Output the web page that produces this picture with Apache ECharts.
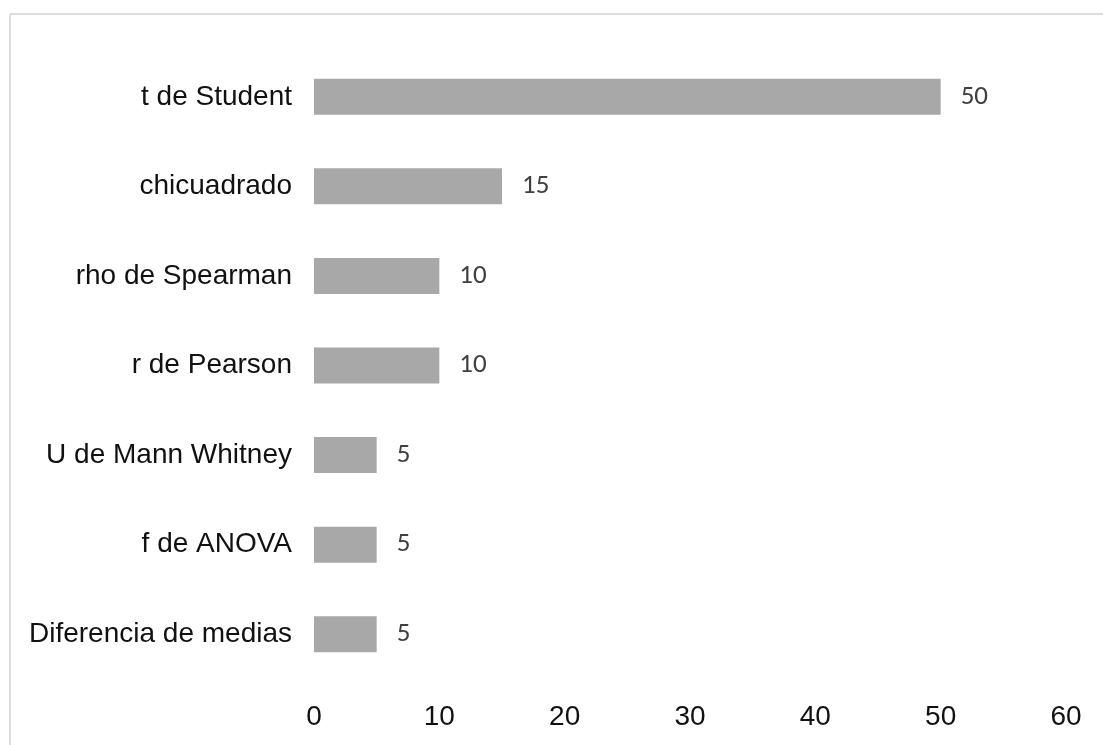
<!DOCTYPE html>
<html>
<head>
<meta charset="utf-8">
<script src="https://cdn.jsdelivr.net/npm/echarts@6/dist/echarts.min.js"></script>
<style>
  html, body { margin: 0; padding: 0; background: #fff; }
  #chart { width: 1103px; height: 745px; }
</style>
</head>
<body>
<div id="chart"></div>
<script>
// Statistical tests used (count), listed top to bottom
const categories = [
  't de Student',
  'chicuadrado',
  'rho de Spearman',
  'r de Pearson',
  'U de Mann Whitney',
  'f de ANOVA',
  'Diferencia de medias'
];
const counts = [50, 15, 10, 10, 5, 5, 5];
const xTicks = { min: 0, max: 60, interval: 10 };

const chart = echarts.init(document.getElementById('chart'), null, { renderer: 'canvas' });

chart.setOption({
  animation: false,
  backgroundColor: '#ffffff',
  graphic: [
    // thin frame along the top and left edges
    { type: 'line', shape: { x1: 10, y1: 14, x2: 1103, y2: 14 }, style: { stroke: '#dedede', lineWidth: 2 }, silent: true },
    { type: 'line', shape: { x1: 10, y1: 14, x2: 10, y2: 745 }, style: { stroke: '#dedede', lineWidth: 2 }, silent: true }
  ],
  grid: { left: 314, right: 37, top: 52, bottom: 66, containLabel: false },
  xAxis: {
    type: 'value',
    min: xTicks.min,
    max: xTicks.max,
    interval: xTicks.interval,
    axisLine: { show: false },
    axisTick: { show: false },
    splitLine: { show: false },
    axisLabel: {
      color: '#111',
      fontFamily: 'Liberation Sans, Arial, sans-serif',
      fontSize: 28,
      margin: 24
    }
  },
  yAxis: {
    type: 'category',
    data: categories,
    inverse: true,
    axisLine: { show: false },
    axisTick: { show: false },
    splitLine: { show: false },
    axisLabel: {
      color: '#111',
      fontFamily: 'Liberation Sans, Arial, sans-serif',
      fontSize: 28,
      margin: 22
    }
  },
  series: [{
    type: 'bar',
    data: counts,
    barWidth: 36,
    itemStyle: { color: '#a8a8a8' },
    label: {
      show: true,
      position: 'right',
      distance: 20,
      color: '#404040',
      fontFamily: 'Carlito, Calibri, "DejaVu Sans", sans-serif',
      fontSize: 27
    }
  }]
});
</script>
</body>
</html>
